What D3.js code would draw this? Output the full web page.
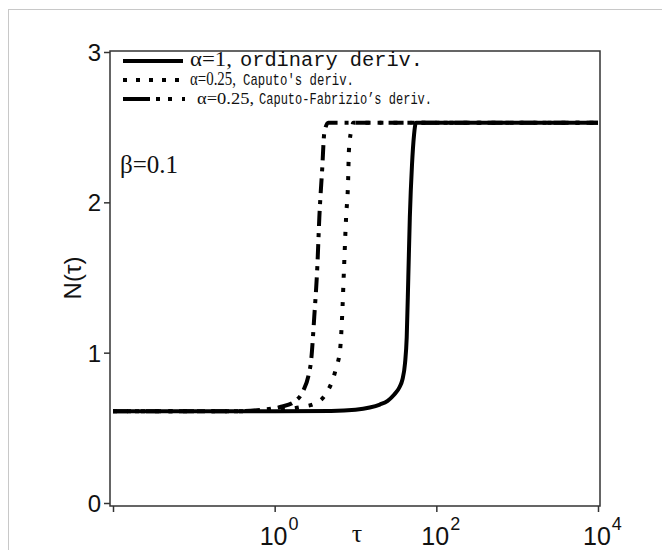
<!DOCTYPE html>
<html><head><meta charset="utf-8">
<script src="https://cdn.jsdelivr.net/npm/d3@7"></script>
<style>
html,body{margin:0;padding:0;background:#fff;}
svg{display:block;}
</style></head>
<body>
<svg id="chart" width="662" height="550"></svg>
<script>
// ---- data ----
const seriesNames = ["α=1, ordinary deriv.", "α=0.25, Caputo's deriv.", "α=0.25, Caputo-Fabrizio’s deriv."];
const tauOrdinary = [0.01, 1, 5, 10, 15, 20, 25, 30, 35, 38, 41, 43, 45, 47, 50, 53, 56, 10000];
const nOrdinary   = [0.61, 0.61, 0.612, 0.62, 0.635, 0.655, 0.68, 0.72, 0.77, 0.82, 0.93, 1.1, 1.5, 1.9, 2.25, 2.45, 2.53, 2.53];
const tauCaputo = [0.01, 0.3, 0.8, 1.5, 2.2, 3.1, 4.35, 5.3, 5.77, 6.45, 6.83, 7.22, 7.65, 8.09, 8.3, 9.06, 9.4, 10000];
const nCaputo   = [0.61, 0.61, 0.615, 0.625, 0.64, 0.66, 0.73, 0.83, 0.90, 1.02, 1.24, 1.57, 1.90, 2.13, 2.35, 2.50, 2.53, 2.53];
const tauCF = [0.01, 0.3, 0.7, 1.2, 1.71, 2.27, 2.6, 2.84, 3.09, 3.37, 3.57, 3.88, 4.11, 4.6, 10000];
const nCF   = [0.61, 0.61, 0.62, 0.64, 0.67, 0.75, 0.84, 0.96, 1.24, 1.57, 1.90, 2.23, 2.46, 2.53, 2.53];
const yTicks = [0, 1, 2, 3];
const xTickValues = [1e-2, 1, 1e2, 1e4];
const xTickLabelExps = [null, 0, 2, 4];
const betaLabel = "β=0.1";

// ---- layout ----
const svg = d3.select("#chart");
const L = 110, R = 600, T = 51, B = 506;
const x = d3.scaleLog().domain([1e-2, 1e4]).range([113, 598]);
const y = d3.scaleLinear().domain([0, 3]).range([503, 52]);
const axisColor = "#333";

// outer frame
svg.append("rect").attr("x", 8.5).attr("y", 9.5).attr("width", 700).attr("height", 600)
  .attr("fill", "none").attr("stroke", "#c8c8c8").attr("stroke-width", 1);

// box
svg.append("path")
  .attr("d", `M${L},${T}H${R}V${B}H${L}Z`)
  .attr("fill", "none").attr("stroke", axisColor).attr("stroke-width", 1.5);

// y axis
const yAxis = svg.append("g").attr("transform", `translate(${L},0)`)
  .call(d3.axisLeft(y).tickValues(yTicks).tickFormat(d3.format("d")).tickSize(6).tickPadding(3));
yAxis.select(".domain").remove();
yAxis.selectAll("line").attr("stroke", axisColor).attr("stroke-width", 1.5);
yAxis.selectAll("text").attr("font-family", "'Liberation Sans', Arial, sans-serif")
  .attr("font-size", 24).attr("fill", "#111").attr("dy", "0.36em");

// x axis
const xAxis = svg.append("g").attr("transform", `translate(0,${B})`)
  .call(d3.axisBottom(x).tickValues(xTickValues).tickFormat("").tickSize(6));
xAxis.select(".domain").remove();
xAxis.selectAll("line").attr("stroke", axisColor).attr("stroke-width", 1.5);
xTickValues.forEach((v, i) => {
  const e = xTickLabelExps[i];
  if (e === null) return;
  const t = svg.append("text").attr("x", x(v) - 15).attr("y", 545)
    .attr("font-family", "'Liberation Sans', Arial, sans-serif").attr("fill", "#111");
  t.append("tspan").attr("font-size", 25).text("10");
  t.append("tspan").attr("font-size", 18).attr("dy", -15).attr("dx", 1).text(String(e));
});

// axis titles
svg.append("text").attr("x", 357).attr("y", 542).attr("text-anchor", "middle")
  .attr("font-family", "'Liberation Serif', 'Times New Roman', serif").attr("font-size", 26)
  .attr("fill", "#111").text("τ");
svg.append("text").attr("transform", "translate(81,278) rotate(-90)").attr("text-anchor", "middle")
  .attr("font-family", "'Liberation Sans', Arial, sans-serif").attr("font-size", 24)
  .attr("fill", "#111").text("N(τ)");

// beta label
svg.append("text").attr("x", 120).attr("y", 173)
  .attr("font-family", "'Liberation Serif', 'Times New Roman', serif").attr("font-size", 25)
  .attr("fill", "#111").text(betaLabel);

// curves
const line = d3.line().x(d => x(d[0])).y(d => y(d[1])).curve(d3.curveMonotoneX);
const series = [
  {tau: tauCF, n: nCF, dash: "15,7,4,7", w: 4},
  {tau: tauCaputo, n: nCaputo, dash: "4,10", w: 4},
  {tau: tauOrdinary, n: nOrdinary, dash: null, w: 4}
];
series.forEach(s => {
  svg.append("path").datum(s.tau.map((t, i) => [t, s.n[i]]))
    .attr("d", line).attr("fill", "none").attr("stroke", "#000")
    .attr("stroke-width", s.w).attr("stroke-dasharray", s.dash);
});

// legend
const serif = "'Liberation Serif', 'Times New Roman', serif";
const mono = "'Liberation Mono', 'Courier New', monospace";
const leg = [
  {y: 61, x1: 123, x2: 183, dash: null, tx: 190, ty: 66, a: "α=1,", aw: 42, b: "ordinary deriv.", bx: 240, bw: 183, fs: 20},
  {y: 80, x1: 123, x2: 187, dash: "4,9", tx: 190, ty: 85, a: "α=0.25,", aw: 46, b: "Caputo's deriv.", bx: 243, bw: 111, fs: 17},
  {y: 99, x1: 123, x2: 190, dash: "27,6,4,8,4,10,3,20", tx: 197, ty: 104, a: "α=0.25,", aw: 57, b: "Caputo-Fabrizio’s deriv.", bx: 259, bw: 173, fs: 16}
];
leg.forEach(r => {
  svg.append("line").attr("x1", r.x1).attr("x2", r.x2).attr("y1", r.y).attr("y2", r.y)
    .attr("stroke", "#000").attr("stroke-width", 4).attr("stroke-dasharray", r.dash);
  svg.append("text").attr("x", r.tx).attr("y", r.ty).attr("font-family", serif)
    .attr("font-size", r.fs + 1).attr("fill", "#111")
    .attr("textLength", r.aw).attr("lengthAdjust", "spacingAndGlyphs").text(r.a);
  svg.append("text").attr("x", r.bx).attr("y", r.ty).attr("font-family", mono)
    .attr("font-size", r.fs).attr("fill", "#111")
    .attr("textLength", r.bw).attr("lengthAdjust", "spacingAndGlyphs").text(r.b);
});
</script>
</body></html>
